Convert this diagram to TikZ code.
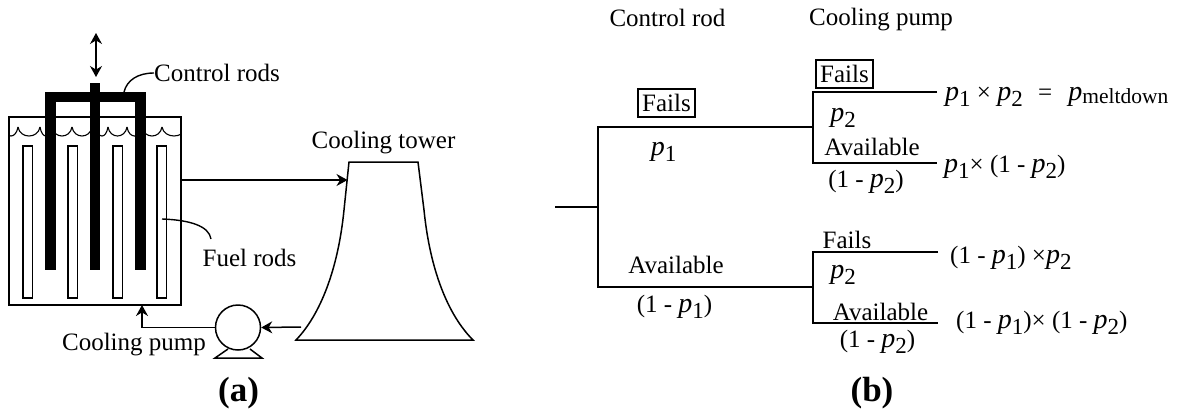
\documentclass[tikz,border=0pt]{standalone}
\usepackage{fontspec}
\setmainfont{Liberation Serif}
\usepackage{tikz}
\usetikzlibrary{calc,arrows.meta}
\newcommand{\pvar}{{\fontsize{28}{28}\selectfont\textit{p}}}
\newcommand{\pbig}[1]{\pvar\raisebox{-0.25em}{\fontsize{23}{23}\selectfont #1}}
\newcommand{\pmelt}{\pvar\raisebox{-0.12em}{\fontsize{21.5}{22}\selectfont meltdown}}
\tikzset{
  lbl/.style={inner sep=0pt,font=\fontsize{25}{27}\selectfont},
  boldlbl/.style={inner sep=0pt,font=\fontsize{35}{37}\selectfont\bfseries},
  failbox/.style={lbl,draw,line width=1.4pt,minimum width=57pt,minimum height=28pt},
  branch/.style={line width=1.7pt},
  pipe/.style={->,line width=1.5pt},
  leader/.style={line width=1.4pt},
  ctrlrod/.style={fill=black,draw=none},
  fuelrod/.style={draw,fill=white,line width=1.4pt}
}
\begin{document}
\begin{tikzpicture}[>={Stealth[length=11pt,width=12pt]},x=1pt,y=-1pt]
  \useasboundingbox (0,0) rectangle (1178,413);
  % Reactor tank with the wavy water surface
  \begin{scope}
    \clip (9,117) rectangle (181,305);
    \foreach \xa/\xb in {4/18,18/40,40/52,52/72,72/92,96/108,108/127,127/142,142/162,162/186}
      \draw[line width=1.1pt] (\xa,127) .. controls (\xa+2,139) and (\xb-2,139) .. (\xb,127);
  \end{scope}
  \draw[line width=1.5pt] (9,117) rectangle (181,305);
  % Fuel rods
  \foreach \xa in {23,68,113,157}
    \draw[fuelrod] (\xa,146) rectangle (\xa+9.5,298);
  % Control rods on their yoke
  \fill[ctrlrod] (45,92) rectangle (146,102);
  \fill[ctrlrod] (45,92) rectangle (56,270);
  \fill[ctrlrod] (90,83) rectangle (100,270);
  \fill[ctrlrod] (135,92) rectangle (146,270);
  % Rod travel
  \coordinate (traveltop) at (96,33);
  \coordinate (travelbot) at (96,77);
  \draw[<->,line width=1.3pt] (traveltop) -- (travelbot);
  % Labels of part (a)
  \node[lbl,anchor=west] (ctrllabel) at (154,73) {Control rods};
  \coordinate (yoke) at (124,92);
  \draw[leader] (yoke) .. controls (127,80) and (138,73) .. (ctrllabel.west);
  \node[lbl] (fuellabel) at (249.5,258) {Fuel rods};
  \coordinate (fuelrod4) at (162,219);
  \draw[leader] (fuelrod4) .. controls (190,220) and (209,226) .. (211,239);
  \node[lbl] (towerlabel) at (383.5,143) {Cooling tower};
  \node[lbl] (pumplabel) at (134,345) {Cooling pump};
  \node[boldlbl] (parta) at (238.5,393) {(a)};
  % Cooling tower
  \draw[line width=1.5pt] (296,340) .. controls (320,315) and (338,270) .. (344,210)
    -- (349,162) -- (418,162) -- (424,210) .. controls (430,270) and (448,315) .. (473,340) -- cycle;
  \coordinate (towerin) at (347.5,180);
  \coordinate (towerout) at (301,327);
  % Pump
  \node[draw,circle,line width=1.5pt,minimum size=45pt,inner sep=0pt] (pump) at (238,327.5) {};
  \draw[line width=1.5pt] (228,349) -- (215,358) -- (262,358) -- (250,349);
  % Coolant loop
  \coordinate (tankout) at (181,180);
  \coordinate (tankin) at (142,305);
  \draw[pipe] (tankout) -- (towerin);
  \draw[pipe] (towerout) -- (pump.east);
  \draw[pipe] (pump.west) -| (tankin);
  % Event tree: control rod stage
  \coordinate (root) at (555,207);
  \coordinate (rootfork) at (598,207);
  \coordinate (rodfail) at (813,127);
  \coordinate (rodok) at (813,287);
  \draw[branch] (root) -- (rootfork);
  \draw[branch] (rodfail) -- (598,127) -- (598,287) -- (rodok);
  % Event tree: cooling pump stage
  \coordinate (failfail) at (937,92);
  \coordinate (failok) at (937,163);
  \coordinate (okfail) at (938,252);
  \coordinate (okok) at (938,323);
  \draw[branch] (failfail) -- (813,92) -- (813,163) -- (failok);
  \draw[branch] (okfail) -- (813,252) -- (813,323) -- (okok);
  % Column heads
  \node[lbl] (headrod) at (667.5,18) {Control rod};
  \node[lbl,anchor=west] (headpump) at (809,20) {Cooling pump};
  % Control rod labels
  \node[failbox] (rodfails) at (666.5,103) {Fails};
  \node[lbl] (pone) at (663.5,152) {\pbig{1}};
  \node[lbl] (rodavail) at (676,265) {Available};
  \node[lbl] (qone) at (674.5,307) {(1 - \pbig{1})};
  % Cooling pump labels
  \node[failbox] (pumpfailsa) at (844.5,74) {Fails};
  \node[lbl] (ptwoa) at (843,118) {\pbig{2}};
  \node[lbl] (availa) at (872,147) {Available};
  \node[lbl] (qtwoa) at (866,182) {(1 - \pbig{2})};
  \node[lbl] (pumpfailsb) at (847,240) {Fails};
  \node[lbl] (ptwob) at (843,275) {\pbig{2}};
  \node[lbl] (availb) at (880.5,312) {Available};
  \node[lbl] (qtwob) at (877.5,342) {(1 - \pbig{2})};
  % Outcomes
  \node[lbl,anchor=west] (outa) at (945,97) {\pbig{1} × \pbig{2} \hspace{9pt}=\hspace{10pt} \pmelt};
  \node[lbl,anchor=west] (outb) at (944,167) {\pbig{1}× (1 - \pbig{2})};
  \node[lbl,anchor=west] (outc) at (950,258) {(1 - \pbig{1}) ×\pbig{2}};
  \node[lbl,anchor=west] (outd) at (956,323) {(1 - \pbig{1})× (1 - \pbig{2})};
  \node[boldlbl] (partb) at (872,393) {(b)};
\end{tikzpicture}
\end{document}
